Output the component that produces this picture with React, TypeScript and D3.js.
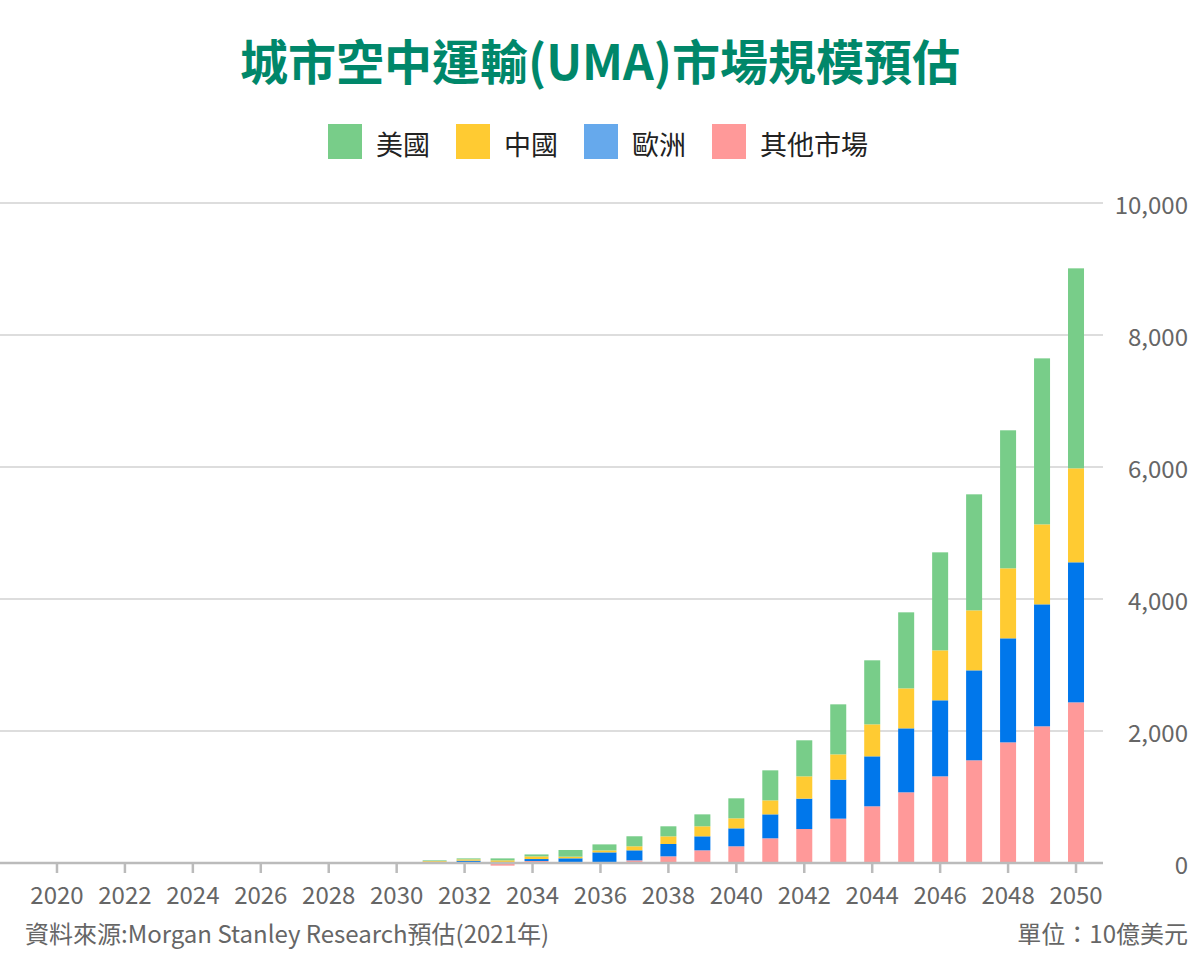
import React from "react";
import * as d3 from "d3";

const years = d3.range(2020, 2051).map(String);
// values in 10億美元
const other = [0,0,0,0,0,0,0,0,0,0,0, 8,15,-40,30,10,10,40,101,192,253,374,515,672,859,1071,1313,1556,1828,2071,2434];
const europe = [0,0,0,0,0,0,0,0,0,0,0, 10,20,10,30,61,151,152,187,212,272,363,460,591,757,969,1152,1363,1576,1848,2122];
const china = [0,0,0,0,0,0,0,0,0,0,0, 12,20,30,40,25,30,61,116,152,152,212,338,383,485,606,757,909,1061,1212,1424];
const usa = [0,0,0,0,0,0,0,0,0,0,0, 10,15,30,30,101,91,152,152,181,303,455,546,758,970,1152,1485,1758,2091,2515,3030];

const seriesKeys = ["其他市場", "歐洲", "中國", "美國"];
const legendKeys = ["美國", "中國", "歐洲", "其他市場"];
const yTicks = [0, 2000, 4000, 6000, 8000, 10000];
const xTickLabels = years.filter((y) => +y % 2 === 0);

const barColors: Record<string, string> = {
  "美國": "#78CD89",
  "中國": "#FFCB32",
  "歐洲": "#0077EB",
  "其他市場": "#FF9999",
};
const legendColors: Record<string, string> = {
  "美國": "#78CD89",
  "中國": "#FFCB32",
  "歐洲": "#66A9EC",
  "其他市場": "#FF9999",
};

const FONT = "'Noto Sans CJK TC', 'Noto Sans', sans-serif";

export default function App() {
  const W = 1200, H = 960;
  const table = years.map((y, i) => ({
    year: y,
    "其他市場": other[i],
    "歐洲": europe[i],
    "中國": china[i],
    "美國": usa[i],
  }));
  const stack = d3.stack<any>().keys(seriesKeys).offset(d3.stackOffsetDiverging);
  const layers = stack(table);

  const x = d3.scalePoint<string>().domain(years).range([40, 1093]).padding(0.5);
  const y = d3.scaleLinear().domain([0, 10000]).range([863, 203]);
  const plotRight = 1103;
  const fmt = d3.format(",");

  return (
    <svg width={W} height={H} style={{ position: "absolute", left: 0, top: 0 }} fontFamily={FONT}>
      <rect width={W} height={H} fill="#fff" />
      <text x={600} y={80} textAnchor="middle" fontSize={48} fontWeight={700} fill="#00876A">
        城市空中運輸(UMA)市場規模預估
      </text>
      {legendKeys.map((k, i) => {
        const lx = [328, 456, 584, 712][i];
        return (
          <g key={k}>
            <rect x={lx} y={124} width={34} height={35} fill={legendColors[k]} />
            <text x={lx + 48} y={143} dominantBaseline="central" fontSize={27} fill="#222">
              {k}
            </text>
          </g>
        );
      })}
      {yTicks.map((t) => (
        <g key={t}>
          {t > 0 && <line x1={0} x2={plotRight} y1={y(t)} y2={y(t)} stroke="#DDDDDD" strokeWidth={2} />}
          <text x={1188} y={y(t)} dominantBaseline="central" textAnchor="end" fontSize={24} fill="#666">
            {fmt(t)}
          </text>
        </g>
      ))}
      {layers.map((layer) => (
        <g key={layer.key} fill={barColors[layer.key]}>
          {layer.map((d: any) => {
            const yr = +d.data.year;
            const wide = yr >= 2031 && yr <= 2036;
            const cx = x(d.data.year)!;
            const y0 = y(Math.max(d[0], d[1]));
            const y1 = y(Math.min(d[0], d[1]));
            if (y1 - y0 <= 0) return null;
            return (
              <rect key={d.data.year} x={cx - 8} width={wide ? 24 : 16} y={y0} height={y1 - y0} />
            );
          })}
        </g>
      ))}
      <line x1={0} x2={plotRight} y1={y(0)} y2={y(0)} stroke="#BBBBBB" strokeWidth={2.5} />
      {xTickLabels.map((t) => (
        <g key={t}>
          <line x1={x(t)} x2={x(t)} y1={y(0)} y2={y(0) + 10} stroke="#BBBBBB" strokeWidth={2.5} />
          <text x={x(t)} y={893} textAnchor="middle" dominantBaseline="central" fontSize={24} fill="#666">
            {t}
          </text>
        </g>
      ))}
      <text x={25} y={932} dominantBaseline="central" fontSize={24} fill="#666">
        資料來源:Morgan Stanley Research預估(2021年)
      </text>
      <text x={1188} y={932} dominantBaseline="central" textAnchor="end" fontSize={24} fill="#666">
        單位：10億美元
      </text>
    </svg>
  );
}
